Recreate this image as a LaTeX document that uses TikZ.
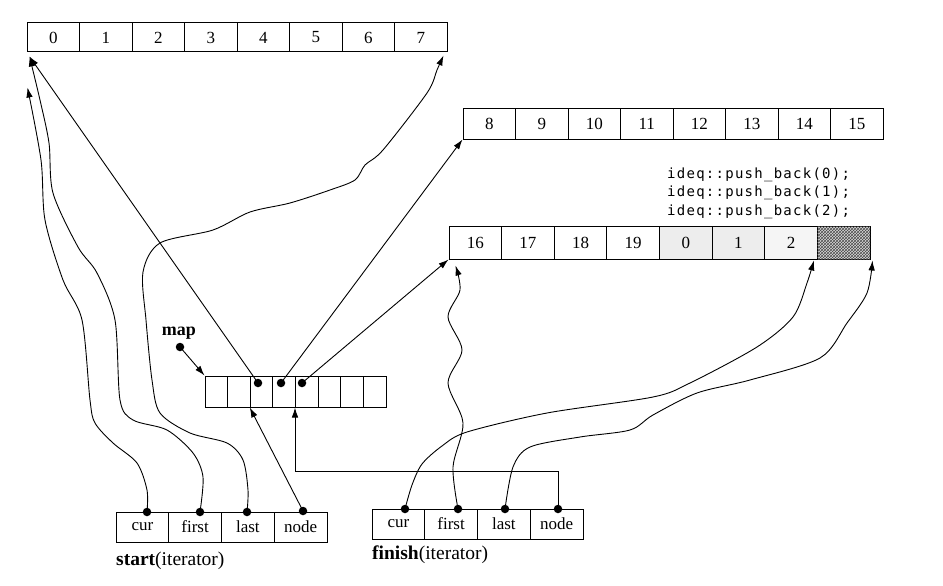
\documentclass[tikz,border=0pt]{standalone}
\usepackage{fontspec}
\setmainfont{Liberation Serif}
\newfontfamily\codefont{DejaVu Sans Mono}[LetterSpace=9]
\usetikzlibrary{arrows.meta,patterns,calc}
\begin{document}
\begin{tikzpicture}[x=1pt,y=-1pt,
  cell/.style={draw, line width=1pt, inner sep=0pt, font=\fontsize{17}{17}\selectfont},
  dot/.style={circle, fill=black, inner sep=0pt, minimum size=8.5pt},
  arr/.style={-{Latex[length=10pt,width=6.5pt]}, line width=0.9pt},
  lbl/.style={font=\fontsize{19.5}{19.5}\selectfont, inner sep=0pt},
  code/.style={anchor=base west, inner sep=0pt, font=\codefont\fontsize{14}{14}\selectfont}]
\useasboundingbox (0,0) rectangle (943,586);

% top buffer
\foreach \i in {0,...,7}
  \node[cell, minimum width=52.5pt, minimum height=29pt] (a\i) at ({27+52.5*\i+26.25},37.5) {\i};
% middle buffer
\foreach \i/\t in {0/8,1/9,2/10,3/11,4/12,5/13,6/14,7/15}
  \node[cell, minimum width=52.5pt, minimum height=31pt] (c\i) at ({463+52.5*\i+26.25},123.5) {\t};
% bottom buffer
\node[cell, minimum width=52.625pt, minimum height=33pt] (b0) at ({449+52.625*0+26.3125},242.5) {16};
\node[cell, minimum width=52.625pt, minimum height=33pt] (b1) at ({449+52.625*1+26.3125},242.5) {17};
\node[cell, minimum width=52.625pt, minimum height=33pt] (b2) at ({449+52.625*2+26.3125},242.5) {18};
\node[cell, minimum width=52.625pt, minimum height=33pt] (b3) at ({449+52.625*3+26.3125},242.5) {19};
\node[cell, minimum width=52.625pt, minimum height=33pt, fill=gray!14] (b4) at ({449+52.625*4+26.3125},242.5) {0};
\node[cell, minimum width=52.625pt, minimum height=33pt, fill=gray!14] (b5) at ({449+52.625*5+26.3125},242.5) {1};
\node[cell, minimum width=52.625pt, minimum height=33pt, fill=gray!8] (b6) at ({449+52.625*6+26.3125},242.5) {2};
\node[cell, minimum width=52.625pt, minimum height=33pt, fill=gray!30,
      postaction={pattern=crosshatch, pattern color=gray!60!black}] (b7) at ({449+52.625*7+26.3125},242.5) {};

% code
\node[code] (code1) at (667,178) {ideq::push\_back(0);};
\node[code] (code2) at (667,196.5) {ideq::push\_back(1);};
\node[code] (code3) at (667,215) {ideq::push\_back(2);};

% map
\foreach \i in {0,...,7}
  \node[cell, minimum width=22.625pt, minimum height=31pt] (m\i) at ({205+22.625*\i+11.3125},391.5) {};
\node[lbl, font=\bfseries\fontsize{18}{18}\selectfont] (maplabel) at (179,333) {map};
\node[dot] (mapdot) at (180,347) {};
\node[dot] (md2) at (258,383) {};
\node[dot] (md3) at (281,383) {};
\node[dot] (md4) at (302,383) {};

% iterators
\foreach \i/\t in {0/cur,1/first,2/last,3/node}
  \node[cell, minimum width=52.75pt, minimum height=30pt] (s\i) at ({116+52.75*\i+26.375},527) {\t};
\foreach \i/\t in {0/cur,1/first,2/last,3/node}
  \node[cell, minimum width=52.75pt, minimum height=30pt] (f\i) at ({372+52.75*\i+26.375},524) {\t};
\node[lbl, anchor=west] (startlabel) at (116,561) {\textbf{start}(iterator)};
\node[lbl, anchor=west] (finishlabel) at (372,555) {\textbf{finish}(iterator)};

\node[dot] (sd0) at (147,512) {};
\node[dot] (sd1) at (200,512) {};
\node[dot] (sd2) at (247,512) {};
\node[dot] (sd3) at (303,511) {};
\node[dot] (fd0) at (405,509) {};
\node[dot] (fd1) at (458,509) {};
\node[dot] (fd2) at (505,509) {};
\node[dot] (fd3) at (558,509) {};

% arrow end points
\coordinate (a0tip) at ($(a0.south west)+(3,4)$);
\coordinate (a0tipB) at ($(a0.south west)+(1,35)$);
\coordinate (a7tip) at ($(a7.south east)+(-4,3)$);
\coordinate (b0tipB) at ($(b0.south west)+(7,6)$);
\coordinate (b6tip) at ($(b6.south east)+(-4,1)$);
\coordinate (b7tip) at ($(b7.south east)+(2,1)$);

% straight connectors
\draw[arr] (mapdot.center) -- (m0.north west);
\draw[arr] (sd3.center) -- (m2.south west);
\draw[arr] (fd3.center) -- ++(0,-38) -| (m4.south west);
\draw[arr] (md2.center) -- (a0tip);
\draw[arr] (md3.center) -- (c0.south west);
\draw[arr] (md4.center) -- (b0.south west);

% start curves
\draw[arr] plot[smooth, tension=0.5] coordinates {(sd0.center) (147,490) (137,463) (113,443) (95,423) (90,400) (82,320) (63,280) (45,220) (41,160) (a0tipB)};
\draw[arr] plot[smooth, tension=0.5] coordinates {(sd1.center) (203,477) (193,453) (167,430) (133,420) (120,400) (115,320) (97,273) (78,247) (53,193) (49,143) (40,100) (a0tip)};
\draw[arr] plot[smooth, tension=0.5] coordinates {(sd2.center) (248,490) (243,460) (227,443) (190,433) (160,413) (152,380) (146,320) (143,272) (160,243) (213,230) (250,212) (290,203) (330,190) (355,180) (365,165) (383,150) (427,93) (437,70) (a7tip)};

% finish curves
\draw[arr] plot[smooth, tension=0.5] coordinates {(fd0.center) (412,485) (422,464) (442,446) (467,432) (547,413) (653,397) (690,383) (757,347) (793,317) (807,283) (b6tip)};
\draw[arr] plot[smooth, tension=0.5] coordinates {(fd1.center) (453,467) (463,423) (448,383) (462,350) (448,317) (460,290) (b0tipB)};
\draw[arr] plot[smooth, tension=0.5] coordinates {(fd2.center) (513,467) (530,447) (580,437) (630,430) (653,415) (697,393) (750,380) (820,358) (847,323) (867,293) (b7tip)};
\end{tikzpicture}
\end{document}
